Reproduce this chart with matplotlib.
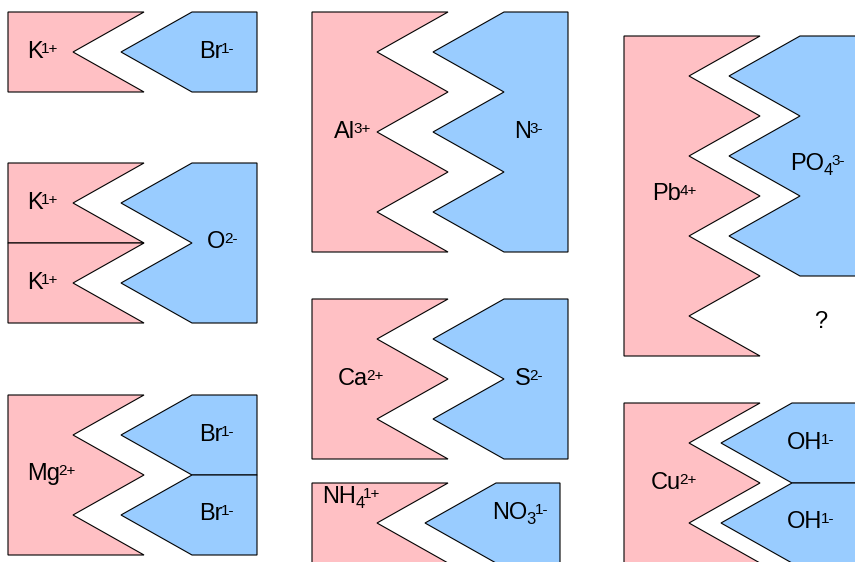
import matplotlib.pyplot as plt
from matplotlib.patches import Polygon

plt.rcParams['font.family'] = ['Liberation Sans', 'DejaVu Sans']

# ions drawn as interlocking pieces: symbol, subscript, charge
cation_names = ["K", "K", "K", "Mg", "Al", "Ca", "NH", "Pb", "Cu"]
cation_subs = ["", "", "", "", "", "", "4", "", ""]
cation_charges = ["1+", "1+", "1+", "2+", "3+", "2+", "1+", "4+", "2+"]
cation_teeth = [1, 1, 1, 2, 3, 2, 1, 4, 2]

anion_names = ["Br", "O", "Br", "Br", "N", "S", "NO", "PO", "OH", "OH"]
anion_subs = ["", "", "", "", "", "", "3", "4", "", ""]
anion_charges = ["1-", "2-", "1-", "1-", "3-", "2-", "1-", "3-", "1-", "1-"]
anion_teeth = [1, 2, 1, 1, 3, 2, 1, 3, 1, 1]

# layout (pixels): piece origin and label anchor (left, baseline)
cation_pos = [(8, 12), (8, 163), (8, 243), (8, 395), (312, 12), (312, 299),
              (312, 483), (624, 36), (624, 403)]
cation_lbl = [(27, 58), (27, 209), (27, 289), (27, 480), (334, 138), (338, 385),
              (322, 503), (652, 200), (651, 489)]
anion_pos = [(121, 12, 257), (121, 163, 257), (121, 395, 257), (121, 475, 257),
             (433, 12, 568), (433, 299, 568), (425, 483, 560), (729, 36, 870),
             (721, 403, 870), (721, 483, 870)]
anion_lbl = [(199, 58), (207, 248), (199, 441), (199, 520), (514, 138), (515, 385),
             (492, 519), (790, 170), (787, 449), (787, 528)]

PINK = '#ffc0c4'
BLUE = '#99ccff'
TOOTH_H = 80
CAT_W = 136
CAT_TIP = 65
AN_DEPTH = 71


def cation_shape(x0, y0, n):
    xo, xt = x0 + CAT_W, x0 + CAT_TIP
    pts = [(x0, y0), (xo, y0)]
    for i in range(n):
        pts.append((xt, y0 + TOOTH_H * i + TOOTH_H / 2))
        pts.append((xo, y0 + TOOTH_H * (i + 1)))
    pts.append((x0, y0 + TOOTH_H * n))
    return pts


def anion_shape(xt, y0, xr, n):
    xo = xt + AN_DEPTH
    pts = [(xo, y0), (xr, y0), (xr, y0 + TOOTH_H * n), (xo, y0 + TOOTH_H * n)]
    for i in reversed(range(n)):
        pts.append((xt, y0 + TOOTH_H * i + TOOTH_H / 2))
        if i > 0:
            pts.append((xo, y0 + TOOTH_H * i))
    return pts


def label(ax, x, y, name, sub, charge):
    t = ax.text(x, y, name, fontsize=17, va='baseline', ha='left')
    ref = t
    if sub:
        ref = ax.annotate(sub, xy=(1, 0), xycoords=t, xytext=(-0.5, -2),
                          textcoords='offset points', fontsize=12,
                          va='bottom', ha='left')
    ax.annotate(charge, xy=(1, 1), xycoords=(ref, t), xytext=(-1, -1),
                textcoords='offset points', fontsize=11, va='top', ha='left')


fig = plt.figure(figsize=(8.55, 5.62), dpi=100)
ax = fig.add_axes([0, 0, 1, 1])
ax.set_xlim(0, 855)
ax.set_ylim(562, 0)
ax.axis('off')

for (x0, y0), n in zip(cation_pos, cation_teeth):
    ax.add_patch(Polygon(cation_shape(x0, y0, n), closed=True, facecolor=PINK,
                         edgecolor='black', linewidth=0.8, joinstyle='miter'))
for (xt, y0, xr), n in zip(anion_pos, anion_teeth):
    ax.add_patch(Polygon(anion_shape(xt, y0, xr, n), closed=True, facecolor=BLUE,
                         edgecolor='black', linewidth=0.8, joinstyle='miter'))

for (x, y), name, sub, ch in zip(cation_lbl, cation_names, cation_subs, cation_charges):
    label(ax, x, y, name, sub, ch)
for (x, y), name, sub, ch in zip(anion_lbl, anion_names, anion_subs, anion_charges):
    label(ax, x, y, name, sub, ch)

ax.text(814, 328, "?", fontsize=17, va='baseline', ha='left')

fig.savefig("out.png", dpi=100)
